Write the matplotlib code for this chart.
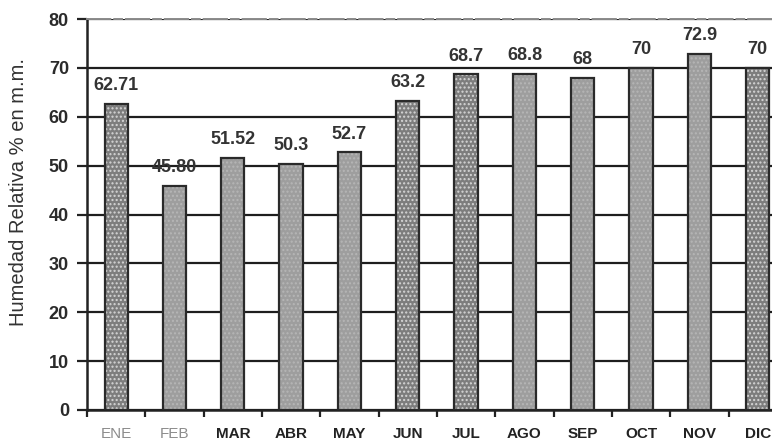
import matplotlib

matplotlib.use("Agg")

import matplotlib.pyplot as plt
import numpy as np

meses = ["ENE", "FEB", "MAR", "ABR", "MAY", "JUN", "JUL", "AGO", "SEP", "OCT", "NOV", "DIC"]
humedad = [62.71, 45.80, 51.52, 50.3, 52.7, 63.2, 68.7, 68.8, 68, 70, 72.9, 70]
etiquetas = ["62.71", "45.80", "51.52", "50.3", "52.7", "63.2", "68.7", "68.8", "68", "70", "72.9", "70"]
# barras con textura granulada fuerte en el original
granulado = [True, False, False, False, False, True, True, False, False, False, False, True]
# en el escaneo ENE y FEB salen desvaidos
desvaido = ["ENE", "FEB"]

plt.rcParams["font.family"] = ["Liberation Sans", "DejaVu Sans"]

fig = plt.figure(figsize=(7.72, 4.42), dpi=100)
ax = fig.add_axes([0.1127, 0.0724, 0.9067, 0.8846])

x = np.arange(len(meses))
ancho = 0.40
for xi, h, g in zip(x, humedad, granulado):
    if g:
        ax.bar(xi, h, ancho, color="#7d7d7d", hatch="....", edgecolor="#d6d6d6",
               linewidth=0, zorder=3)
    else:
        ax.bar(xi, h, ancho, color="#9e9e9e", hatch="....", edgecolor="#b6b6b6",
               linewidth=0, zorder=3)
    ax.bar(xi, h, ancho, facecolor="none", edgecolor="#2a2a2a", linewidth=1.6, zorder=4)

for xi, h, t in zip(x, humedad, etiquetas):
    ax.annotate(t, (xi, h), textcoords="offset points", xytext=(0, 7),
                ha="center", va="bottom", fontsize=13, fontweight="bold",
                color="#333333", zorder=5)

ax.set_xlim(-0.5, 11.5)
ax.set_ylim(0, 80)
ax.set_yticks(np.arange(0, 81, 10))
ax.yaxis.grid(True, color="#1e1e1e", linewidth=1.6, zorder=1)
ax.set_axisbelow(True)

ax.set_xticks(np.arange(-0.5, 12, 1))
ax.set_xticklabels([])
ax.set_xticks(x, minor=True)
ax.set_xticklabels(meses, minor=True)
ax.tick_params(axis="x", which="major", length=5, width=1.6, color="#222222")
ax.tick_params(axis="x", which="minor", length=0, pad=12, labelsize=11)
for lab in ax.get_xticklabels(minor=True):
    if lab.get_text() in desvaido:
        lab.set_color("#8c8c8c")
        lab.set_fontweight("normal")
    else:
        lab.set_color("#222222")
        lab.set_fontweight("bold")

ax.tick_params(axis="y", length=7, width=1.6, color="#222222", pad=6,
               labelsize=13)
for lab in ax.get_yticklabels():
    lab.set_fontweight("bold")
    lab.set_color("#2a2a2a")

ax.set_ylabel("Humedad Relativa % en m.m.", fontsize=14.5, color="#333333")
ax.yaxis.set_label_coords(-0.084, 0.557)

ax.spines["left"].set_color("#222222")
ax.spines["left"].set_linewidth(1.8)
ax.spines["bottom"].set_color("#222222")
ax.spines["bottom"].set_linewidth(1.8)
ax.spines["top"].set_color("#8a8a8a")
ax.spines["top"].set_linewidth(1.4)
ax.spines["top"].set_linestyle((0, (12, 2, 4, 2)))
ax.spines["right"].set_visible(False)

fig.savefig("out.png", dpi=100)
